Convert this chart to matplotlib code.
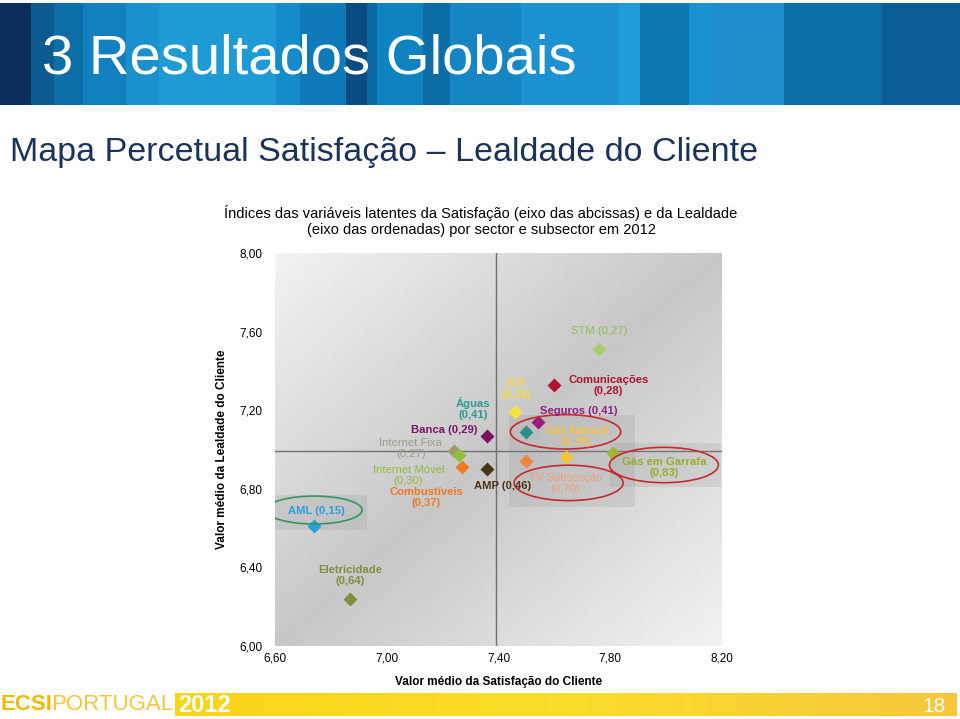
import numpy as np
import matplotlib.pyplot as plt
from matplotlib.patches import Ellipse, Rectangle
from matplotlib.colors import LinearSegmentedColormap

plt.rcParams['font.family'] = ['Liberation Sans', 'DejaVu Sans']

# data
sectors = ['STM', 'Comunicações', 'STF', 'Seguros', 'Águas', 'Banca',
           'Internet Fixa', 'Internet Móvel', 'Combustíveis', 'AMP',
           'Gás Natural', 'Gás em Garrafa', 'TV Subscrição', 'AML', 'Eletricidade']
satisfaction = [7.76, 7.60, 7.46, 7.54, 7.50, 7.36, 7.24, 7.26, 7.27, 7.36,
                7.64, 7.81, 7.50, 6.74, 6.87]
loyalty = [7.51, 7.33, 7.19, 7.14, 7.09, 7.07, 6.99, 6.97, 6.91, 6.90,
           6.96, 6.98, 6.94, 6.61, 6.24]
impact = ['0,27', '0,28', '0,28', '0,41', '0,41', '0,29', '0,27', '0,30',
          '0,37', '0,46', '0,70', '0,83', '0,70', '0,15', '0,64']
mean_satisfaction = 7.39
mean_loyalty = 6.99
x_ticks = [6.6, 7.0, 7.4, 7.8, 8.2]
y_ticks = [6.0, 6.4, 6.8, 7.2, 7.6, 8.0]

# styling per sector
marker_colors = ['#A5D06E', '#B5122F', '#F8E33C', '#9A1D7E', '#2C8F86', '#7A1060',
                 '#9E9A6E', '#8DBE3C', '#EE7A22', '#4B3316', '#F7C436', '#A4B534',
                 '#F0843C', '#2A9EDF', '#7F8F3C']
label_colors = ['#8DBF5A', '#B0122E', '#F2D94A', '#8E1F80', '#2C9D93', '#7B1565',
                '#9B9B8C', '#8DBE3C', '#EE7A22', '#4B3316', '#F6C445', '#9AAD2E',
                '#EFA07A', '#2A9EDF', '#7F8F3C']
# (dx px, dy px, two lines, bold)
label_layout = [(0, 18, False, False), (54, -1, True, True), (1, 23, True, True),
                (41, 11, False, True), (-53, 23, True, True), (-43, 6, False, True),
                (-43, 3, True, False), (-51, -20, True, False), (-36, -30, True, True),
                (15, -17, False, True), (11, 21, True, True), (51, -14, True, True),
                (39, -22, True, False), (2, 15, False, True), (0, 23, True, True)]

fig = plt.figure(figsize=(9.6, 7.19), dpi=100)

# slide decoration (pixel coordinates)
bg = fig.add_axes([0, 0, 1, 1], zorder=-5)
bg.set_xlim(0, 960)
bg.set_ylim(719, 0)
bg.axis('off')
stripes = [(0, 31, '#0B2E5C'), (31, 54, '#0C5A90'), (54, 83, '#0E6EA8'),
           (83, 126, '#1280BE'), (126, 159, '#1A90CD'), (159, 276, '#1E9AD5'),
           (276, 300, '#158CCA'), (300, 346, '#0E7AB8'), (346, 367, '#0A4C80'),
           (367, 377, '#0C68A2'), (377, 423, '#0F82C0'), (423, 450, '#0C6DA6'),
           (450, 521, '#1585C4'), (521, 618, '#1C93D0'), (618, 640, '#1E9CD8'),
           (640, 689, '#0E78B5'), (689, 713, '#1A92D0'), (713, 784, '#1E8FCC'),
           (784, 882, '#0D6FA8'), (882, 960, '#0A5E95')]
for x0, x1, c in stripes:
    bg.add_patch(Rectangle((x0, 3), x1 - x0, 102, color=c, lw=0))
bg.text(42, 60, '3 Resultados Globais', color='white', fontsize=40.5,
        va='center', ha='left')
bg.text(10, 153, 'Mapa Percetual Satisfação – Lealdade do Cliente',
        color='#1B3358', fontsize=24.5, va='center', ha='left')

# footer
bar = np.linspace(0, 1, 200).reshape(1, -1)
bg.imshow(bar, extent=[175, 957, 716, 693], aspect='auto', zorder=1,
          cmap=LinearSegmentedColormap.from_list('y', ['#FAD419', '#FBDD2A', '#F6C73E']))
bg.text(1, 705, 'ECSI', color='#F2B900', fontsize=16, fontweight='bold',
        va='center', ha='left')
bg.text(51, 705, 'PORTUGAL', color='#F5C63A', fontsize=16,
        va='center', ha='left')
bg.text(178, 705, '2012', color='white', fontsize=17, fontweight='bold',
        va='center', ha='left', zorder=3)
bg.text(946, 706, '18', color='white', fontsize=15, va='center', ha='right',
        zorder=3)

# chart title
fig.text(481 / 960, 1 - 221 / 719,
         'Índices das variáveis latentes da Satisfação (eixo das abcissas) e da Lealdade\n'
         '(eixo das ordenadas) por sector e subsector em 2012',
         ha='center', va='center', fontsize=10.5, linespacing=1.25)

ax = fig.add_axes([275 / 960, 1 - 646 / 719, 447 / 960, 393 / 719])
ax.set_xlim(6.6, 8.2)
ax.set_ylim(6.0, 8.0)

# gradient plot background
u, v = np.meshgrid(np.linspace(0, 1, 300), np.linspace(1, 0, 300))
shade = 0.78 + 0.17 * np.abs(u - v)
ax.imshow(shade, extent=[6.6, 8.2, 6.0, 8.0], aspect='auto', cmap='gray',
          vmin=0, vmax=1, zorder=0)

ax.axvline(mean_satisfaction, color='#707070', lw=1, zorder=1)
ax.axhline(mean_loyalty, color='#707070', lw=1, zorder=1)

# highlight boxes and ellipses
for (x0, y0, w, h) in [(6.596, 6.59, 0.334, 0.178), (7.439, 6.707, 0.449, 0.469),
                       (7.798, 6.809, 0.40, 0.224)]:
    ax.add_patch(Rectangle((x0, y0), w, h, color='#8a8a8a', alpha=0.18, lw=0, zorder=1))
for (cx, cy, w, h, c) in [(7.64, 7.09, 0.395, 0.175, '#C8282E'),
                          (7.651, 6.83, 0.39, 0.18, '#C8282E'),
                          (7.992, 6.921, 0.39, 0.18, '#C8282E'),
                          (6.74, 6.692, 0.344, 0.142, '#2E9A5A')]:
    ax.add_patch(Ellipse((cx, cy), w, h, fill=False, edgecolor=c, lw=1.2, zorder=4))

for i, name in enumerate(sectors):
    ax.plot(satisfaction[i], loyalty[i], marker='D', ms=7, color=marker_colors[i],
            mec='none', zorder=3)
    dx, dy, two, bold = label_layout[i]
    sep = '\n' if two else ' '
    ax.annotate(name + sep + '(' + impact[i] + ')', (satisfaction[i], loyalty[i]),
                xytext=(dx, dy), textcoords='offset pixels', ha='center', va='center',
                fontsize=8.1, color=label_colors[i], linespacing=1.1,
                fontweight='bold' if bold else 'normal', zorder=5)

ax.set_xticks(x_ticks)
ax.set_yticks(y_ticks)
ax.set_xticklabels([f'{t:.2f}'.replace('.', ',') for t in x_ticks])
ax.set_yticklabels([f'{t:.2f}'.replace('.', ',') for t in y_ticks])
ax.tick_params(length=0, labelsize=8.5, pad=5)
ax.tick_params(axis='y', pad=9)
for s in ax.spines.values():
    s.set_visible(False)

ax.set_xlabel('Valor médio da Satisfação do Cliente', fontsize=8.5,
              fontweight='bold', labelpad=8)
ax.set_ylabel('Valor médio da Lealdade do Cliente', fontsize=8.5,
              fontweight='bold', labelpad=8)

fig.savefig('out.png', dpi=100)
